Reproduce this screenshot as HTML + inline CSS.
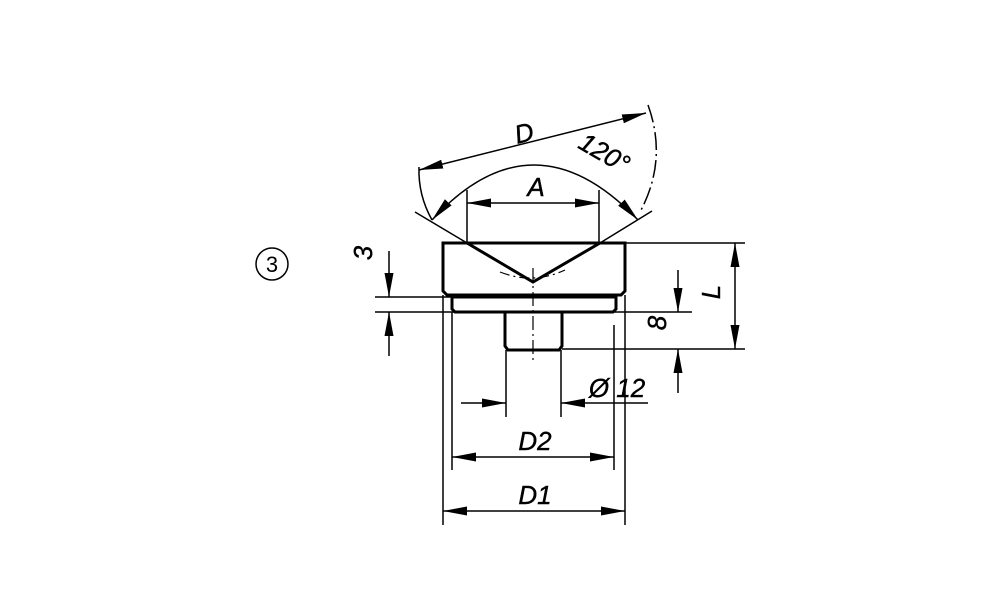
<!DOCTYPE html>
<html><head><style>body{margin:0;background:#fff}svg{display:block}</style></head><body>
<svg width="1000" height="611" viewBox="0 0 1000 611" xmlns="http://www.w3.org/2000/svg" font-family="Liberation Sans, sans-serif">
<defs>
<marker id="a" markerWidth="24" markerHeight="12" refX="24" refY="6" orient="auto-start-reverse" markerUnits="userSpaceOnUse"><path d="M0,1.5 L24,6 L0,10.5 z" fill="#000"/></marker>
</defs>
<g stroke="#000" fill="none">
<circle cx="272" cy="264" r="16" stroke-width="1.5"/>
<path d="M443,243 H625 V291 L621,295 H447 L443,291 Z" stroke-width="3"/>
<path d="M467,243 L533,282 L600,243" stroke-width="3"/>
<path d="M452,297 H616 V309 L613,312 H455 L452,309 Z" stroke-width="3"/>
<path d="M505,312 V346 L508,350 H559 L562,346 V312" stroke-width="3"/>
<path d="M533,268 V360" stroke-width="1.2" stroke-dasharray="14,4,2,4"/>
<path d="M432,220 Q533,110 638,220" stroke-width="1.5" marker-start="url(#a)" marker-end="url(#a)"/>
<path d="M500,272 Q533,285 565,270" stroke-width="1.2" stroke-dasharray="10,4,2,4"/>
<path d="M415,212 L467,243 M600,243 L652,211" stroke-width="1.5"/>
<path d="M419,167 Q418,195 432,220" stroke-width="1.5"/>
<path d="M648,105 Q668,160 640,212" stroke-width="1.5" stroke-dasharray="18,4,2,4"/>
<path d="M419,170 L646,113" stroke-width="1.5" marker-start="url(#a)" marker-end="url(#a)"/>
<path d="M467,190 V243 M599,190 V243" stroke-width="1.5"/>
<path d="M467,203 H599" stroke-width="1.5" marker-start="url(#a)" marker-end="url(#a)"/>
<path d="M375,297 H452 M375,312 H692" stroke-width="1.5"/>
<path d="M389,251 V297" stroke-width="1.5" marker-end="url(#a)"/>
<path d="M389,356 V312" stroke-width="1.5" marker-end="url(#a)"/>
<path d="M625,243 H745 M562,349 H745" stroke-width="1.5"/>
<path d="M735,243 V349" stroke-width="1.5" marker-start="url(#a)" marker-end="url(#a)"/>
<path d="M678,270 V312" stroke-width="1.5" marker-end="url(#a)"/>
<path d="M678,393 V349" stroke-width="1.5" marker-end="url(#a)"/>
<path d="M443,295 V525 M625,295 V525 M452,312 V470 M614,325 V470 M506,350 V417 M561,350 V417" stroke-width="1.5"/>
<path d="M461,403 H506" stroke-width="1.5" marker-end="url(#a)"/>
<path d="M648,403 H561" stroke-width="1.5" marker-end="url(#a)"/>
<path d="M452,457 H614" stroke-width="1.5" marker-start="url(#a)" marker-end="url(#a)"/>
<path d="M443,511 H625" stroke-width="1.5" marker-start="url(#a)" marker-end="url(#a)"/>
</g>
<g fill="#000" font-style="italic" font-size="26" stroke="#000" stroke-width="0.4">
<text x="272" y="272" font-size="22" font-style="normal" text-anchor="middle" stroke-width="0">3</text>
<text x="524" y="142" text-anchor="middle" transform="rotate(-14 524 133)">D</text>
<text x="605" y="162" text-anchor="middle" transform="rotate(30 605 152)">120°</text>
<text x="536" y="196" text-anchor="middle">A</text>
<text x="378" y="263" text-anchor="middle" transform="rotate(-90 370 261)">3</text>
<text x="719" y="309" text-anchor="middle" transform="rotate(-90 711 300)">L</text>
<text x="665" y="340" text-anchor="middle" transform="rotate(-90 657 331)">8</text>
<text x="617" y="397" text-anchor="middle">Ø 12</text>
<text x="535" y="450" text-anchor="middle">D2</text>
<text x="535" y="504" text-anchor="middle">D1</text>
</g>
</svg>
</body></html>
